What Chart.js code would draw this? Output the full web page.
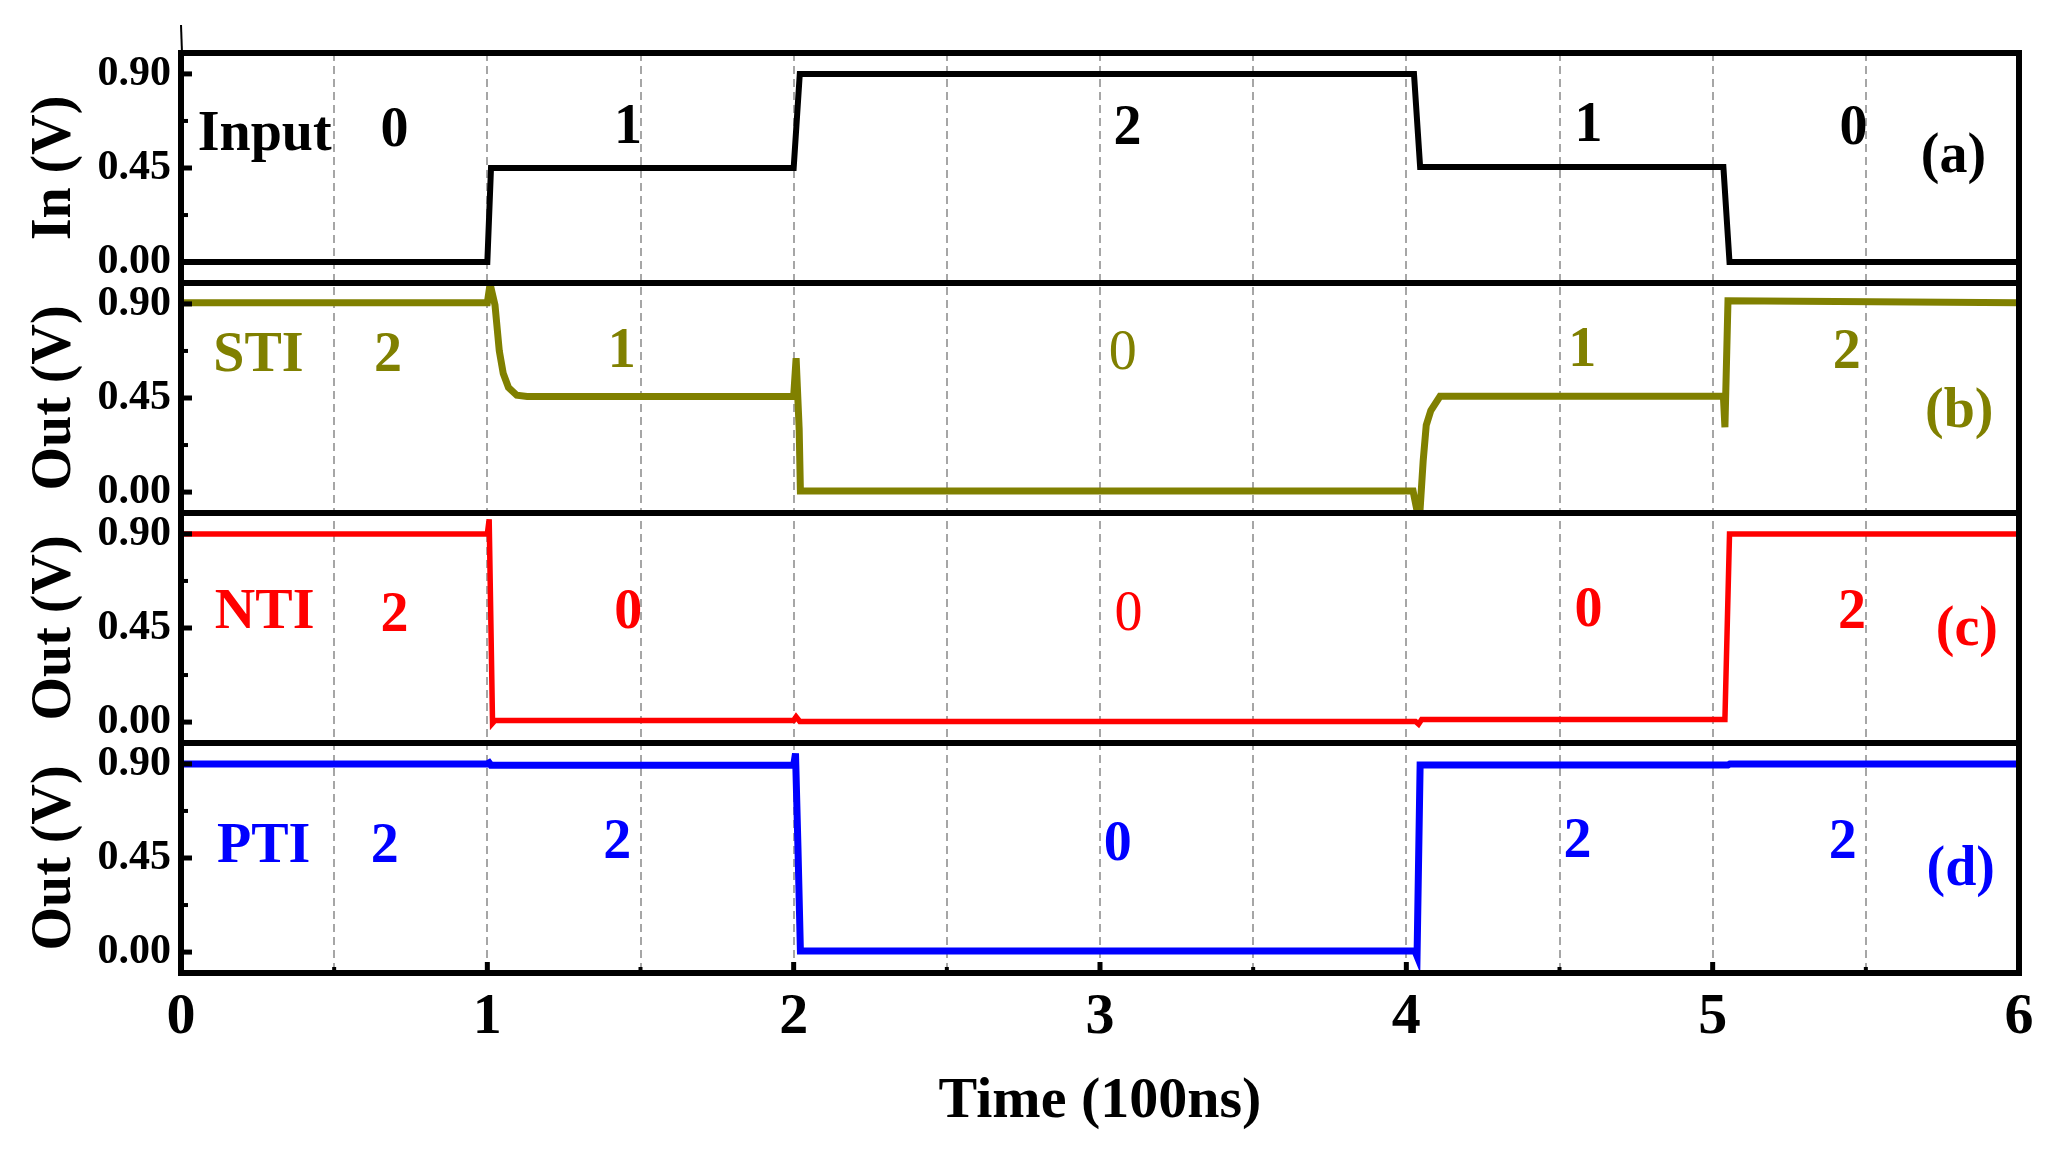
<!DOCTYPE html>
<html>
<head>
<meta charset="utf-8">
<script src="https://cdn.jsdelivr.net/npm/chart.js@4.4.1/dist/chart.umd.min.js"></script>
<style>
  html, body { margin: 0; padding: 0; background: #fff; }
  canvas { display: block; }
</style>
</head>
<body>
<canvas id="chart" width="2069" height="1151"></canvas>
<script>
// time axis (units of 100 ns)
const xTicks = [0, 1, 2, 3, 4, 5, 6];
const yTicks = [0, 0.45, 0.9];
const yMinorTicks = [0.225, 0.675];

// (a) input waveform
const inT = [0, 1.0, 1.012, 2.0, 2.02, 4.025, 4.045, 5.035, 5.055, 6];
const inV = [0, 0, 0.45, 0.45, 0.9, 0.9, 0.455, 0.455, 0, 0];

// (b) STI output
const stiT = [0, 1.0, 1.009, 1.025, 1.039, 1.052, 1.069, 1.096, 1.13, 2.0, 2.008, 2.018, 2.022,
              4.022, 4.035, 4.045, 4.055, 4.065, 4.08, 4.11, 5.035, 5.04, 5.05, 6];
const stiV = [0.905, 0.905, 0.995, 0.895, 0.676, 0.567, 0.5, 0.463, 0.457, 0.458, 0.64, 0.3, 0.005,
              0.005, -0.09, -0.08, 0.15, 0.32, 0.39, 0.458, 0.458, 0.31, 0.915, 0.905];

// (c) NTI output
const ntiT = [0, 1.0, 1.006, 1.017, 1.025, 2.0, 2.008, 2.02, 4.03, 4.04, 4.05, 5.04, 5.055, 6];
const ntiV = [0.9, 0.9, 0.97, -0.005, 0.008, 0.008, 0.025, 0.003, 0.003, -0.01, 0.012, 0.012, 0.9, 0.9];

// (d) PTI output
const ptiT = [0, 1.0, 1.006, 1.012, 2.0, 2.006, 2.014, 2.022, 4.028, 4.035, 4.045, 5.05, 5.056, 6];
const ptiV = [0.9, 0.9, 0.905, 0.893, 0.893, 0.95, 0.5, 0.005, 0.005, -0.02, 0.895, 0.895, 0.9, 0.9];

// panel text labels, positioned in data units
const labelsA = [['Input', 0.273, 0.604], ['0', 0.697, 0.623], ['1', 1.459, 0.637], ['2', 3.09, 0.633],
                 ['1', 4.595, 0.65], ['0', 5.46, 0.633], ['(a)', 5.786, 0.502]];
const labelsB = [['STI', 0.253, 0.648], ['2', 0.676, 0.648], ['1', 1.439, 0.669], ['0', 3.074, 0.657, 'normal'],
                 ['1', 4.574, 0.673], ['2', 5.438, 0.664], ['(b)', 5.805, 0.382]];
const labelsC = [['NTI', 0.273, 0.517], ['2', 0.697, 0.507], ['0', 1.46, 0.521], ['0', 3.093, 0.513, 'normal'],
                 ['0', 4.595, 0.528], ['2', 5.455, 0.517], ['(c)', 5.83, 0.44]];
const labelsD = [['PTI', 0.27, 0.502], ['2', 0.665, 0.502], ['2', 1.424, 0.521], ['0', 3.058, 0.508],
                 ['2', 4.559, 0.526], ['2', 5.425, 0.517], ['(d)', 5.81, 0.388]];

const SERIF = '"Liberation Serif", "Times New Roman", serif';
const toPoints = (t, v) => t.map((x, i) => ({ x: x, y: v[i] }));

const panels = [
  { id: 'yA', title: 'In (V)', color: '#000000', labels: labelsA },
  { id: 'yB', title: 'Out (V)', color: '#808000', labels: labelsB },
  { id: 'yC', title: 'Out (V)', color: '#ff0000', labels: labelsC },
  { id: 'yD', title: 'Out (V)', color: '#0000ff', labels: labelsD }
];

function yScale(p) {
  return {
    type: 'linear',
    position: 'left',
    stack: 'panels',
    stackWeight: 1,
    min: -0.1,
    max: 1.0,
    afterBuildTicks: s => { s.ticks = yTicks.map(v => ({ value: v })); },
    afterFit: s => { s.width = 181; },
    ticks: {
      callback: v => Number(v).toFixed(2),
      font: { family: SERIF, size: 42, weight: 'bold' },
      color: '#000',
      padding: 10
    },
    grid: { display: false, drawTicks: false },
    border: { display: false },
    title: {
      display: true,
      text: p.title,
      font: { family: SERIF, size: 56, weight: 'bold', lineHeight: 1.2 },
      color: '#000',
      padding: { top: 22, bottom: 0 }
    }
  };
}

// frame, panel separators, inward ticks and panel labels
const framePlugin = {
  id: 'frame',
  afterDatasetsDraw(chart) {
    const { ctx, chartArea: a, scales } = chart;
    const xs = scales.x;
    ctx.save();
    ctx.strokeStyle = '#000';
    ctx.lineCap = 'butt';

    // y ticks (inside)
    panels.forEach(p => {
      const s = scales[p.id];
      ctx.lineWidth = 5;
      yTicks.forEach(v => {
        const y = s.getPixelForValue(v);
        ctx.beginPath(); ctx.moveTo(a.left, y); ctx.lineTo(a.left + 11, y); ctx.stroke();
      });
      ctx.lineWidth = 4;
      yMinorTicks.forEach(v => {
        const y = s.getPixelForValue(v);
        ctx.beginPath(); ctx.moveTo(a.left, y); ctx.lineTo(a.left + 7, y); ctx.stroke();
      });
    });

    // x ticks (inside)
    xTicks.forEach(v => {
      const x = xs.getPixelForValue(v);
      ctx.lineWidth = 5;
      ctx.beginPath(); ctx.moveTo(x, a.bottom); ctx.lineTo(x, a.bottom - 11); ctx.stroke();
      if (v < 6) {
        const xm = xs.getPixelForValue(v + 0.5);
        ctx.lineWidth = 4;
        ctx.beginPath(); ctx.moveTo(xm, a.bottom); ctx.lineTo(xm, a.bottom - 6); ctx.stroke();
      }
    });

    // panel separators and outer frame
    ctx.lineWidth = 6;
    panels.forEach(p => {
      const y = scales[p.id].top;
      ctx.beginPath(); ctx.moveTo(a.left, y); ctx.lineTo(a.right, y); ctx.stroke();
    });
    ctx.strokeRect(a.left, a.top, a.right - a.left, a.bottom - a.top);
    ctx.lineWidth = 2;
    ctx.beginPath(); ctx.moveTo(a.left, a.top - 28); ctx.lineTo(a.left + 1, a.top); ctx.stroke();

    // panel labels
    ctx.textAlign = 'center';
    ctx.textBaseline = 'middle';
    panels.forEach(p => {
      const s = scales[p.id];
      ctx.fillStyle = p.color;
      p.labels.forEach(l => {
        ctx.font = (l[3] || 'bold') + ' 56px ' + SERIF;
        ctx.fillText(l[0], xs.getPixelForValue(l[1]), s.getPixelForValue(l[2]));
      });
    });
    ctx.restore();
  }
};

const scales = {
  x: {
    type: 'linear',
    position: 'bottom',
    min: 0,
    max: 6,
    afterFit: s => { s.height = 178; },
    ticks: {
      stepSize: 0.5,
      autoSkip: false,
      maxRotation: 0,
      callback: v => (Number.isInteger(v) ? String(v) : ''),
      font: { family: SERIF, size: 58, weight: 'bold' },
      color: '#000',
      padding: 10
    },
    grid: {
      drawTicks: false,
      lineWidth: 2,
      color: c => (c.tick && (c.tick.value === 0 || c.tick.value === 6)) ? 'rgba(0,0,0,0)' : '#a6a6a6'
    },
    border: { display: false, dash: [8, 5] },
    title: {
      display: true,
      text: 'Time (100ns)',
      font: { family: SERIF, size: 58, weight: 'bold', lineHeight: 1.2 },
      color: '#000',
      padding: { top: 0, bottom: 14 }
    }
  }
};
// later-defined left axes are stacked on top
panels.slice().reverse().forEach(p => { scales[p.id] = yScale(p); });

new Chart(document.getElementById('chart').getContext('2d'), {
  type: 'line',
  data: {
    datasets: [
      { label: 'Input', data: toPoints(inT, inV), yAxisID: 'yA', borderColor: '#000000', borderWidth: 6 },
      { label: 'STI', data: toPoints(stiT, stiV), yAxisID: 'yB', borderColor: '#808000', borderWidth: 7 },
      { label: 'NTI', data: toPoints(ntiT, ntiV), yAxisID: 'yC', borderColor: '#ff0000', borderWidth: 5.5 },
      { label: 'PTI', data: toPoints(ptiT, ptiV), yAxisID: 'yD', borderColor: '#0000ff', borderWidth: 7 }
    ]
  },
  options: {
    responsive: false,
    animation: false,
    elements: {
      line: { tension: 0, fill: false, borderJoinStyle: 'miter', borderCapStyle: 'butt' },
      point: { radius: 0, hoverRadius: 0 }
    },
    layout: { padding: { left: 0, right: 50, top: 53, bottom: 0 } },
    plugins: { legend: { display: false }, tooltip: { enabled: false } },
    scales: scales
  },
  plugins: [framePlugin]
});
</script>
</body>
</html>
